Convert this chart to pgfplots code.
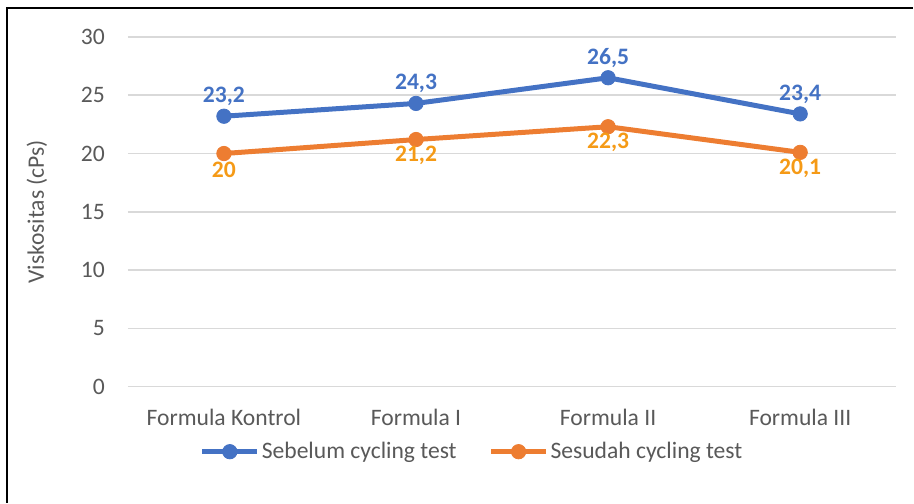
\documentclass[border=0pt]{standalone}
\usepackage{pgfplots}
\pgfplotsset{compat=1.18}
\usepackage{fontspec}
\setmainfont{Carlito}
\definecolor{cblue}{HTML}{4472C4}
\definecolor{corange}{HTML}{ED7D31}
\definecolor{clab}{HTML}{F59A16}
\definecolor{ctxt}{HTML}{595959}
\definecolor{cgrid}{HTML}{D9D9D9}
\begin{document}
\begin{tikzpicture}[font=\fontsize{11.8pt}{14pt}\selectfont]
\path (0,0) rectangle (457pt,251.5pt);
\draw[line width=0.8pt] (3.6pt,0pt) -- (3.6pt,247.6pt) -- (457pt,247.6pt);
\begin{axis}[
  at={(64pt,58pt)}, anchor=south west,
  scale only axis, width=384.5pt, height=175pt,
  xmin=-0.5, xmax=3.5, ymin=0, ymax=30,
  xtick={0,1,2,3},
  xticklabels={Formula Kontrol, Formula I, Formula II, Formula III},
  ytick={0,5,...,30},
  ymajorgrids, grid style={cgrid, line width=0.8pt},
  axis line style={draw=none},
  major tick length=0pt,
  tick label style={text=ctxt},
  /pgf/number format/assume math mode=true,
  /pgf/number format/use comma,
  yticklabel style={anchor=east, xshift=-8pt},
  xticklabel style={anchor=base, yshift=-19.5pt},
  ylabel={Viskositas (cPs)},
  ylabel style={at={(axis description cs:-0.1183,0.5)}, anchor=center, text=ctxt},
  legend style={at={(axis description cs:0.448,-0.186)}, anchor=center, draw=none,
    legend columns=2, text=ctxt, inner sep=0pt,
    nodes={inner sep=1pt}, /tikz/every even column/.append style={column sep=15pt}},
  legend cell align=left,
  legend image code/.code={\draw[mark repeat=2,mark phase=2,#1] plot coordinates {(0pt,0pt) (13.75pt,0pt) (27.5pt,0pt)};},
  nodes near coords,
  every node near coord/.append style={font=\fontsize{11.8pt}{14pt}\selectfont\bfseries, anchor=center},
]
\addplot[cblue, line width=2.5pt, mark=*, mark size=3.6pt, mark options={line width=0.4pt},
  every node near coord/.append style={text=cblue, yshift=9.8pt}]
  coordinates {(0,23.2) (1,24.3) (2,26.5) (3,23.4)};
\addlegendentry{Sebelum cycling test}
\addplot[corange, line width=2.5pt, mark=*, mark size=3.6pt, mark options={line width=0.4pt},
  every node near coord/.append style={text=clab, yshift=-8pt}]
  coordinates {(0,20) (1,21.2) (2,22.3) (3,20.1)};
\addlegendentry{Sesudah cycling test}
\end{axis}
\end{tikzpicture}
\end{document}
